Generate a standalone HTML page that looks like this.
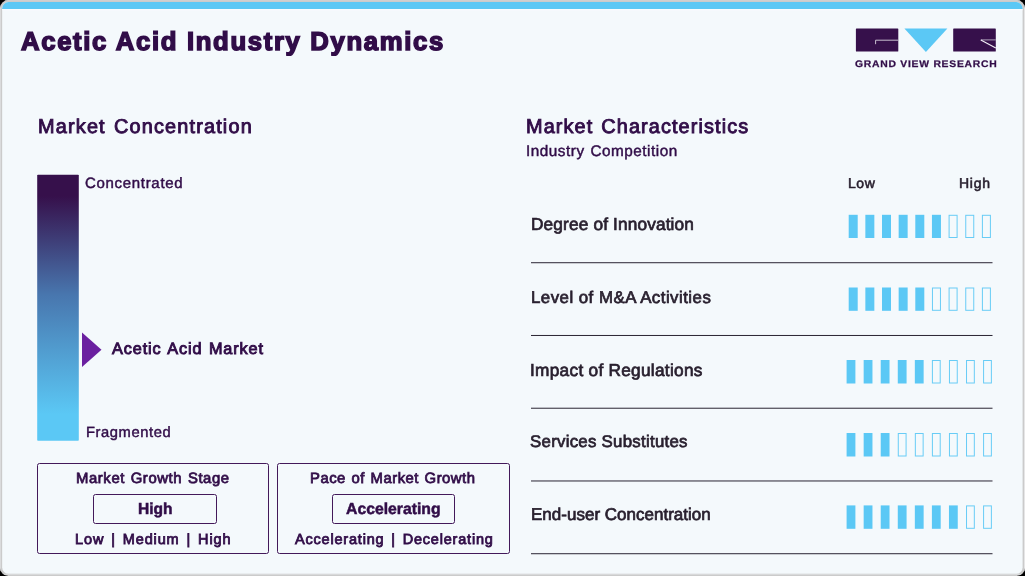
<!DOCTYPE html>
<html><head><meta charset="utf-8"><title>Acetic Acid Industry Dynamics</title>
<style>
html,body{margin:0;padding:0;background:#000;}
body{width:1025px;height:576px;position:relative;overflow:hidden;font-family:"Liberation Sans",sans-serif;}
.t{position:absolute;white-space:nowrap;transform-origin:0 50%;margin:0;padding:0;}
#txt{position:absolute;left:0;top:0;width:1025px;height:576px;will-change:transform;}
.box{position:absolute;box-sizing:border-box;border:1.3px solid #43195a;border-radius:2.5px;}
svg{position:absolute;left:0;top:0;}
</style></head><body>
<svg width="1025" height="576" viewBox="0 0 1025 576">
<defs>
<clipPath id="co"><rect x="0" y="0" width="1025" height="576" rx="8.5" ry="8.5"/></clipPath>
<clipPath id="ci"><rect x="2.15" y="2.1" width="1020.45" height="571.75" rx="6.5" ry="6.5"/></clipPath>
</defs>
<g clip-path="url(#co)">
<rect x="0" y="0" width="1025" height="576" fill="#cbcbcb"/>
<rect x="0" y="0" width="1" height="576" fill="#dadbdc"/>
<rect x="1024" y="0" width="1" height="576" fill="#e6e6e7"/>
<rect x="0" y="0" width="1025" height="1" fill="#cfcfcf"/>
<rect x="2" y="574" width="1021" height="1" fill="#d8d9da"/>
</g>
<g clip-path="url(#ci)">
<rect x="0" y="0" width="1025" height="576" fill="#f4f9fc"/>
<rect x="0" y="0" width="1025" height="9.05" fill="#5bc8f5"/>
<rect x="0" y="9.05" width="1025" height="1.2" fill="#fafcfd"/>
</g>
</svg>
<div class="box" style="left:36.7px;top:462.9px;width:232.8px;height:91.3px;"></div>
<div class="box" style="left:92.8px;top:493.5px;width:124.1px;height:30.8px;"></div>
<div class="box" style="left:276.7px;top:462.9px;width:233.3px;height:91.3px;"></div>
<div class="box" style="left:331.6px;top:493.5px;width:123.7px;height:30.8px;"></div>
<svg width="1025" height="576" viewBox="0 0 1025 576">
<defs><linearGradient id="gb" x1="0" y1="0" x2="0" y2="1">
<stop offset="0" stop-color="#36104b"/><stop offset="0.08" stop-color="#36104b"/><stop offset="0.45" stop-color="#4876ae"/><stop offset="0.9" stop-color="#5bc8f5"/><stop offset="1" stop-color="#5bc8f5"/></linearGradient></defs>
<rect x="37.2" y="174.8" width="41.6" height="266" rx="0.8" fill="url(#gb)"/>
<polygon points="82,332.6 101.5,349.7 82,367.1" fill="#6b20a0"/>
<rect x="531" y="262.22" width="461.5" height="1" fill="#2a2433"/>
<rect x="531" y="334.97" width="461.5" height="1" fill="#2a2433"/>
<rect x="531" y="407.72" width="461.5" height="1" fill="#2a2433"/>
<rect x="531" y="480.47" width="461.5" height="1" fill="#2a2433"/>
<rect x="531" y="553.22" width="461.5" height="1" fill="#2a2433"/>
<rect x="848.70" y="214.80" width="9.00" height="23.20" fill="#5bc8f5"/>
<rect x="865.35" y="214.80" width="9.00" height="23.20" fill="#5bc8f5"/>
<rect x="882.00" y="214.80" width="9.00" height="23.20" fill="#5bc8f5"/>
<rect x="898.65" y="214.80" width="9.00" height="23.20" fill="#5bc8f5"/>
<rect x="915.30" y="214.80" width="9.00" height="23.20" fill="#5bc8f5"/>
<rect x="931.95" y="214.80" width="9.00" height="23.20" fill="#5bc8f5"/>
<rect x="949.10" y="215.30" width="8.00" height="22.20" fill="none" stroke="#68ccf6" stroke-width="1"/>
<rect x="965.75" y="215.30" width="8.00" height="22.20" fill="none" stroke="#68ccf6" stroke-width="1"/>
<rect x="982.40" y="215.30" width="8.00" height="22.20" fill="none" stroke="#68ccf6" stroke-width="1"/>
<rect x="848.70" y="287.50" width="9.00" height="23.30" fill="#5bc8f5"/>
<rect x="865.35" y="287.50" width="9.00" height="23.30" fill="#5bc8f5"/>
<rect x="882.00" y="287.50" width="9.00" height="23.30" fill="#5bc8f5"/>
<rect x="898.65" y="287.50" width="9.00" height="23.30" fill="#5bc8f5"/>
<rect x="915.30" y="287.50" width="9.00" height="23.30" fill="#5bc8f5"/>
<rect x="932.45" y="288.00" width="8.00" height="22.30" fill="none" stroke="#68ccf6" stroke-width="1"/>
<rect x="949.10" y="288.00" width="8.00" height="22.30" fill="none" stroke="#68ccf6" stroke-width="1"/>
<rect x="965.75" y="288.00" width="8.00" height="22.30" fill="none" stroke="#68ccf6" stroke-width="1"/>
<rect x="982.40" y="288.00" width="8.00" height="22.30" fill="none" stroke="#68ccf6" stroke-width="1"/>
<rect x="846.60" y="360.00" width="8.80" height="23.50" fill="#5bc8f5"/>
<rect x="863.66" y="360.00" width="8.80" height="23.50" fill="#5bc8f5"/>
<rect x="880.72" y="360.00" width="8.80" height="23.50" fill="#5bc8f5"/>
<rect x="897.78" y="360.00" width="8.80" height="23.50" fill="#5bc8f5"/>
<rect x="914.84" y="360.00" width="8.80" height="23.50" fill="#5bc8f5"/>
<rect x="932.40" y="360.50" width="7.80" height="22.50" fill="none" stroke="#68ccf6" stroke-width="1"/>
<rect x="949.46" y="360.50" width="7.80" height="22.50" fill="none" stroke="#68ccf6" stroke-width="1"/>
<rect x="966.52" y="360.50" width="7.80" height="22.50" fill="none" stroke="#68ccf6" stroke-width="1"/>
<rect x="983.58" y="360.50" width="7.80" height="22.50" fill="none" stroke="#68ccf6" stroke-width="1"/>
<rect x="846.60" y="433.00" width="8.80" height="23.50" fill="#5bc8f5"/>
<rect x="863.66" y="433.00" width="8.80" height="23.50" fill="#5bc8f5"/>
<rect x="880.72" y="433.00" width="8.80" height="23.50" fill="#5bc8f5"/>
<rect x="898.28" y="433.50" width="7.80" height="22.50" fill="none" stroke="#68ccf6" stroke-width="1"/>
<rect x="915.34" y="433.50" width="7.80" height="22.50" fill="none" stroke="#68ccf6" stroke-width="1"/>
<rect x="932.40" y="433.50" width="7.80" height="22.50" fill="none" stroke="#68ccf6" stroke-width="1"/>
<rect x="949.46" y="433.50" width="7.80" height="22.50" fill="none" stroke="#68ccf6" stroke-width="1"/>
<rect x="966.52" y="433.50" width="7.80" height="22.50" fill="none" stroke="#68ccf6" stroke-width="1"/>
<rect x="983.58" y="433.50" width="7.80" height="22.50" fill="none" stroke="#68ccf6" stroke-width="1"/>
<rect x="846.60" y="505.40" width="8.80" height="23.40" fill="#5bc8f5"/>
<rect x="863.66" y="505.40" width="8.80" height="23.40" fill="#5bc8f5"/>
<rect x="880.72" y="505.40" width="8.80" height="23.40" fill="#5bc8f5"/>
<rect x="897.78" y="505.40" width="8.80" height="23.40" fill="#5bc8f5"/>
<rect x="914.84" y="505.40" width="8.80" height="23.40" fill="#5bc8f5"/>
<rect x="931.90" y="505.40" width="8.80" height="23.40" fill="#5bc8f5"/>
<rect x="948.96" y="505.40" width="8.80" height="23.40" fill="#5bc8f5"/>
<rect x="966.52" y="505.90" width="7.80" height="22.40" fill="none" stroke="#68ccf6" stroke-width="1"/>
<rect x="983.58" y="505.90" width="7.80" height="22.40" fill="none" stroke="#68ccf6" stroke-width="1"/>
<g id="logo">
<rect x="855.9" y="28.5" width="42.4" height="23.1" rx="0.6" fill="#36104b"/>
<path d="M875.6 44.2 V40.2 H898.3" fill="none" stroke="#d9d2df" stroke-width="0.9"/>
<polygon points="904.4,28.5 947.4,28.5 925.9,51.9" fill="#5bc8f5"/>
<rect x="953.2" y="28.5" width="42.6" height="23.1" rx="0.6" fill="#36104b"/>
<path d="M995.8 39.9 H980.8" fill="none" stroke="#b9aec4" stroke-width="0.9"/>
<path d="M980.8 40.1 L995.8 48.1" fill="none" stroke="#f4f0f7" stroke-width="1.1"/>
</g>
</svg>
<div id="txt">
<div class="t" style="left:20.97px;top:28.54px;font-size:25.73px;line-height:25.73px;font-weight:700;color:#310d48;letter-spacing:1.637px;word-spacing:0.00px;transform:scaleX(1.0000) skewX(0.1deg);-webkit-text-stroke:1.5px #310d48;">Acetic Acid Industry Dynamics</div>
<div class="t" style="left:38.11px;top:117.41px;font-size:19.91px;line-height:19.91px;font-weight:400;color:#310d48;letter-spacing:1.159px;word-spacing:1.39px;transform:scaleX(1.0000) skewX(0.1deg);-webkit-text-stroke:0.9px #310d48;">Market Concentration</div>
<div class="t" style="left:525.73px;top:117.41px;font-size:19.91px;line-height:19.91px;font-weight:400;color:#310d48;letter-spacing:1.082px;word-spacing:1.39px;transform:scaleX(1.0000) skewX(0.1deg);-webkit-text-stroke:0.9px #310d48;">Market Characteristics</div>
<div class="t" style="left:525.68px;top:143.25px;font-size:15.33px;line-height:15.33px;font-weight:400;color:#310d48;letter-spacing:0.505px;word-spacing:1.07px;transform:scaleX(1.0000) skewX(0.1deg);-webkit-text-stroke:0.45px #310d48;">Industry Competition</div>
<div class="t" style="left:84.69px;top:174.64px;font-size:15.04px;line-height:15.04px;font-weight:400;color:#310d48;letter-spacing:0.670px;word-spacing:1.05px;transform:scaleX(1.0000) skewX(0.1deg);-webkit-text-stroke:0.45px #310d48;">Concentrated</div>
<div class="t" style="left:86.10px;top:425.05px;font-size:14.75px;line-height:14.75px;font-weight:400;color:#310d48;letter-spacing:0.563px;word-spacing:1.03px;transform:scaleX(1.0000) skewX(0.1deg);-webkit-text-stroke:0.45px #310d48;">Fragmented</div>
<div class="t" style="left:111.87px;top:339.89px;font-size:16.28px;line-height:16.28px;font-weight:400;color:#310d48;letter-spacing:0.877px;word-spacing:1.14px;transform:scaleX(1.0000) skewX(0.1deg);-webkit-text-stroke:0.9px #310d48;">Acetic Acid Market</div>
<div class="t" style="left:848.01px;top:175.75px;font-size:14.03px;line-height:14.03px;font-weight:400;color:#29202f;letter-spacing:0.525px;word-spacing:0.00px;transform:scaleX(1.0000) skewX(0.1deg);-webkit-text-stroke:0.55px #29202f;">Low</div>
<div class="t" style="left:958.81px;top:175.75px;font-size:14.03px;line-height:14.03px;font-weight:400;color:#29202f;letter-spacing:0.713px;word-spacing:0.00px;transform:scaleX(1.0000) skewX(0.1deg);-webkit-text-stroke:0.55px #29202f;">High</div>
<div class="t" style="left:530.66px;top:215.86px;font-size:17.3px;line-height:17.3px;font-weight:400;color:#29202f;letter-spacing:0.129px;word-spacing:0.00px;transform:scaleX(1.0000) skewX(0.1deg);-webkit-text-stroke:0.7px #29202f;">Degree of Innovation</div>
<div class="t" style="left:530.67px;top:290.13px;font-size:16.86px;line-height:16.86px;font-weight:400;color:#29202f;letter-spacing:0.464px;word-spacing:0.00px;transform:scaleX(1.0000) skewX(0.1deg);-webkit-text-stroke:0.7px #29202f;">Level of M&amp;A Activities</div>
<div class="t" style="left:529.59px;top:361.56px;font-size:17.3px;line-height:17.3px;font-weight:400;color:#29202f;letter-spacing:0.262px;word-spacing:0.00px;transform:scaleX(1.0000) skewX(0.1deg);-webkit-text-stroke:0.7px #29202f;">Impact of Regulations</div>
<div class="t" style="left:529.85px;top:434.22px;font-size:16.86px;line-height:16.86px;font-weight:400;color:#29202f;letter-spacing:0.251px;word-spacing:0.00px;transform:scaleX(1.0000) skewX(0.1deg);-webkit-text-stroke:0.7px #29202f;">Services Substitutes</div>
<div class="t" style="left:531.04px;top:506.20px;font-size:17.01px;line-height:17.01px;font-weight:400;color:#29202f;letter-spacing:0.010px;word-spacing:0.00px;transform:scaleX(1.0000) skewX(0.1deg);-webkit-text-stroke:0.7px #29202f;">End-user Concentration</div>
<div class="t" style="left:75.74px;top:470.92px;font-size:14.9px;line-height:14.9px;font-weight:400;color:#310d48;letter-spacing:0.573px;word-spacing:1.04px;transform:scaleX(1.0000) skewX(0.1deg);-webkit-text-stroke:0.75px #310d48;">Market Growth Stage</div>
<div class="t" style="left:137.90px;top:500.84px;font-size:15.84px;line-height:15.84px;font-weight:700;color:#310d48;letter-spacing:0.000px;word-spacing:0.00px;transform:scaleX(0.9839) skewX(0.1deg);-webkit-text-stroke:0.5px #310d48;">High</div>
<div class="t" style="left:75.00px;top:531.61px;font-size:14.53px;line-height:14.53px;font-weight:400;color:#310d48;letter-spacing:0.867px;word-spacing:2.03px;transform:scaleX(1.0000) skewX(0.1deg);-webkit-text-stroke:0.8px #310d48;">Low | Medium | High</div>
<div class="t" style="left:309.75px;top:470.92px;font-size:14.9px;line-height:14.9px;font-weight:400;color:#310d48;letter-spacing:0.480px;word-spacing:1.04px;transform:scaleX(1.0000) skewX(0.1deg);-webkit-text-stroke:0.75px #310d48;">Pace of Market Growth</div>
<div class="t" style="left:346.00px;top:500.84px;font-size:15.84px;line-height:15.84px;font-weight:700;color:#310d48;letter-spacing:0.000px;word-spacing:0.00px;transform:scaleX(0.9959) skewX(0.1deg);-webkit-text-stroke:0.5px #310d48;">Accelerating</div>
<div class="t" style="left:295.06px;top:531.61px;font-size:14.53px;line-height:14.53px;font-weight:400;color:#310d48;letter-spacing:0.791px;word-spacing:2.03px;transform:scaleX(1.0000) skewX(0.1deg);-webkit-text-stroke:0.8px #310d48;">Accelerating | Decelerating</div>
<div class="t" style="left:855.19px;top:59.17px;font-size:9.52px;line-height:9.52px;font-weight:700;color:#310d48;letter-spacing:0.666px;word-spacing:0.00px;transform:scaleX(1.0912) skewX(0.1deg);-webkit-text-stroke:0.25px #310d48;">GRAND VIEW RESEARCH</div>
</div>
</body></html>
